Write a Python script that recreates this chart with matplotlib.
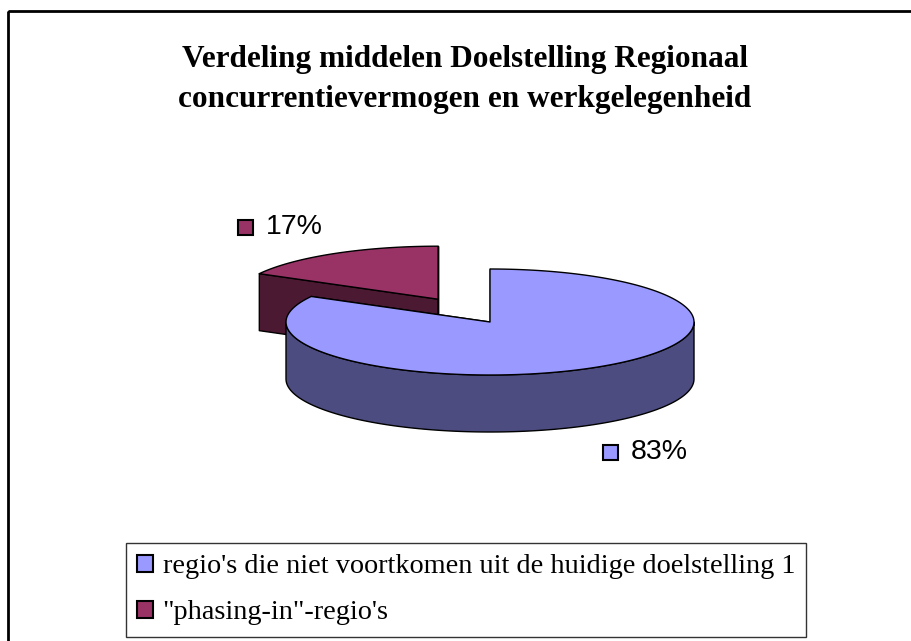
import numpy as np
import matplotlib
matplotlib.use('Agg')
import matplotlib.pyplot as plt
from matplotlib.patches import Polygon, Rectangle, Patch

# data
labels = ["regio's die niet voortkomen uit de huidige doelstelling 1",
          '"phasing-in"-regio\'s']
values = [83, 17]
pct_labels = ['83%', '17%']
top_colors = ['#9999FF', '#993366']
side_colors = ['#4C4C80', '#4C1933']
explode = [0.0, 0.5]

title = 'Verdeling middelen Doelstelling Regionaal\nconcurrentievermogen en werkgelegenheid'

# layout (pixels, y downwards)
W, H = 911, 641
cx, cy = 490, 322
rx, ry = 204, 53
depth = 57
label_pos = [(603, 452), (238, 227)]  # left edge of the label marker

fig = plt.figure(figsize=(W / 100, H / 100), dpi=100)
ax = fig.add_axes([0, 0, 1, 1])
ax.set_xlim(0, W)
ax.set_ylim(H, 0)
ax.axis('off')

# outer frame
ax.add_patch(Rectangle((8, 11), W + 20, H + 20, fill=False, ec='black', lw=2, clip_on=False))

ax.text(465, 80, title, ha='center', va='center', fontsize=22.5, fontweight='bold',
        family='Liberation Serif', linespacing=1.5)


def pt(x0, y0, a, dz=0.0):
    # a: clockwise angle from 12 o'clock, degrees
    r = np.radians(a)
    return x0 + rx * np.sin(r), y0 - ry * np.cos(r) + dz


fracs = np.array(values) / np.sum(values)
starts = np.concatenate([[0], np.cumsum(fracs)[:-1]]) * 360
ends = np.cumsum(fracs) * 360

slices = []
for i in range(len(values)):
    mid = np.radians((starts[i] + ends[i]) / 2)
    x0 = cx + explode[i] * rx * np.sin(mid)
    y0 = cy - explode[i] * ry * np.cos(mid)
    slices.append((y0, i, x0))

# back slices first
for y0, i, x0 in sorted(slices):
    a0, a1 = starts[i], ends[i]
    # radial side faces
    for a in (a0, a1):
        ex, ey = pt(x0, y0, a)
        face = [(x0, y0), (ex, ey), (ex, ey + depth), (x0, y0 + depth)]
        ax.add_patch(Polygon(face, closed=True, fc=side_colors[i], ec='black', lw=1, joinstyle='round'))
    # outer wall, front half only
    lo, hi = max(a0, 90), min(a1, 270)
    if hi > lo:
        aa = np.linspace(lo, hi, 120)
        top = [pt(x0, y0, a) for a in aa]
        bot = [pt(x0, y0, a, depth) for a in aa[::-1]]
        ax.add_patch(Polygon(top + bot, closed=True, fc=side_colors[i], ec='black', lw=1, joinstyle='round'))
    # top face
    aa = np.linspace(a0, a1, 240)
    poly = [(x0, y0)] + [pt(x0, y0, a) for a in aa]
    ax.add_patch(Polygon(poly, closed=True, fc=top_colors[i], ec='black', lw=1, joinstyle='round'))

# data labels
for i, txt in enumerate(pct_labels):
    lx, ly = label_pos[i]
    ax.add_patch(Rectangle((lx, ly - 7.5), 15, 15, fc=top_colors[i], ec='black', lw=1.5))
    ax.text(lx + 28, ly, txt, ha='left', va='center', fontsize=20.5, family='Liberation Sans')

# legend
handles = [Patch(fc=top_colors[i], ec='black', lw=1.5) for i in range(len(labels))]
leg = ax.legend(handles, labels, loc='upper left', bbox_to_anchor=(126, 543),
                bbox_transform=ax.transData, prop={'family': 'Liberation Serif', 'size': 20.3},
                handlelength=0.55, handleheight=0.55, handletextpad=0.35, labelspacing=0.75,
                borderpad=0.4, borderaxespad=0, fancybox=False, frameon=True)
leg.get_frame().set_edgecolor('black')
leg.get_frame().set_linewidth(1)

fig.savefig('out.png', dpi=100)
